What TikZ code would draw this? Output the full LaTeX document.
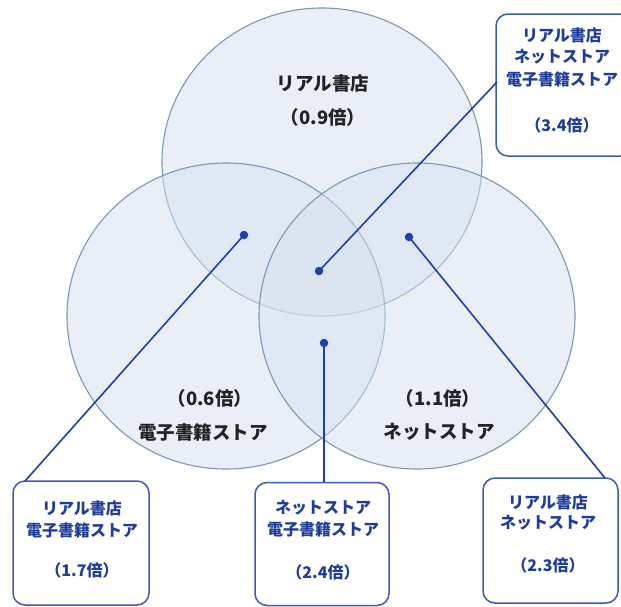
\documentclass[tikz,border=0pt]{standalone}
\usepackage{fontspec}
\newfontfamily\jp{Noto Sans CJK JP}
\definecolor{circfill}{HTML}{D6E0EF}
\definecolor{circline}{HTML}{7B97B6}
\definecolor{linkblue}{HTML}{1F3FAE}
\definecolor{boxline}{HTML}{3A5AB8}
\definecolor{boxtext}{HTML}{1E3C9E}
\definecolor{circtext}{HTML}{222222}
\tikzset{
  setcirc/.style={fill=circfill, fill opacity=0.5, draw=circline, draw opacity=1, line width=1.1pt},
  ctext/.style={font=\jp\bfseries\fontsize{18.5}{21}\selectfont, text=circtext, inner sep=0pt},
  btext/.style={font=\jp\bfseries\fontsize{16}{19}\selectfont, text=boxtext, inner sep=0pt},
  infobox/.style={draw=boxline, line width=1.5pt, rounded corners=12pt, fill=white, inner sep=0pt},
  link/.style={draw=linkblue, line width=1.6pt},
  dotmark/.style={circle, fill=linkblue, inner sep=0pt, minimum size=8.5pt},
}
\begin{document}
\begin{tikzpicture}[x=1pt,y=-1pt]
\useasboundingbox (0,0) rectangle (621,606);
% circles
\draw[setcirc] (322,162) ellipse [x radius=160, y radius=154];
\draw[setcirc] (226,316) ellipse [x radius=159, y radius=153];
\draw[setcirc] (417,316) ellipse [x radius=158, y radius=153];
% circle labels
\node[ctext] (t1) at (323,83) {リアル書店};
\node[ctext] (t2) at (323,117) {（0.9倍）};
\node[ctext] (t3) at (210,398) {（0.6倍）};
\node[ctext] (t4) at (203,432) {電子書籍ストア};
\node[ctext] (t5) at (438,398) {（1.1倍）};
\node[ctext] (t6) at (439,432) {ネットストア};
% boxes
\node[infobox, minimum width=136pt, minimum height=142pt] (bTR) at (564,85) {};
\node[infobox, minimum width=136pt, minimum height=124pt] (bL) at (81,543) {};
\node[infobox, minimum width=134pt, minimum height=123pt] (bM) at (322,544) {};
\node[infobox, minimum width=135pt, minimum height=125pt] (bR) at (550.5,540.5) {};
% dots
\node[dotmark] (d34) at (319,271) {};
\node[dotmark] (d17) at (244,235) {};
\node[dotmark] (d23) at (409,237) {};
\node[dotmark] (d24) at (324,343) {};
% connector end points
\coordinate (eTR) at (497,82);
\coordinate (eL) at (25,481);
\coordinate (eM) at (324,482);
\coordinate (eR) at (605,478);
\draw[link] (d34.center) -- (eTR);
\draw[link] (d17.center) -- (eL);
\draw[link] (d24.center) -- (eM);
\draw[link] (d23.center) -- (eR);
% box texts
\node[btext] (a1) at (562,35) {リアル書店};
\node[btext] (a2) at (562,57) {ネットストア};
\node[btext] (a3) at (562,79) {電子書籍ストア};
\node[btext] (a4) at (562,125) {（3.4倍）};
\node[btext] (l1) at (82,508) {リアル書店};
\node[btext] (l2) at (82,530) {電子書籍ストア};
\node[btext] (l3) at (82,570) {（1.7倍）};
\node[btext] (m1) at (323,508) {ネットストア};
\node[btext] (m2) at (323,529) {電子書籍ストア};
\node[btext] (m3) at (323,572) {（2.4倍）};
\node[btext] (r1) at (548,502) {リアル書店};
\node[btext] (r2) at (548,523) {ネットストア};
\node[btext] (r3) at (548,565) {（2.3倍）};
\end{tikzpicture}
\end{document}
